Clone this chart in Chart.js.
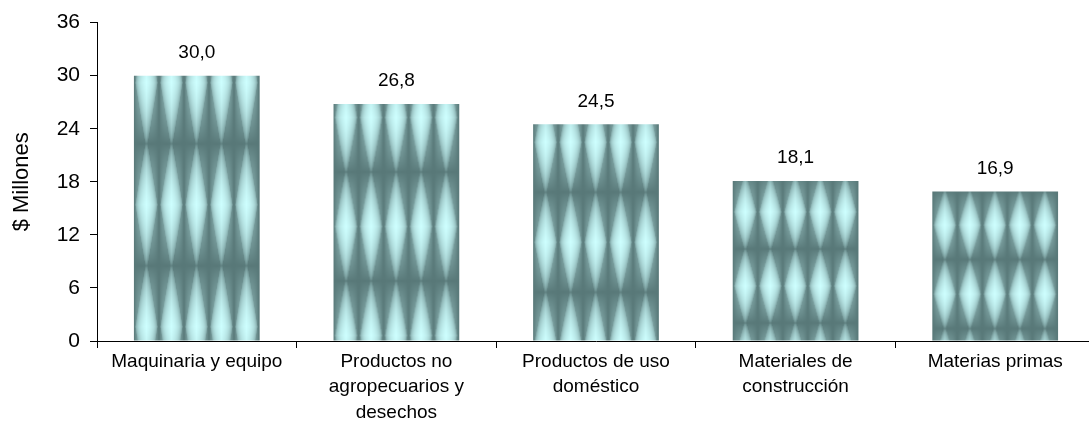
<!DOCTYPE html>
<html>
<head>
<meta charset="utf-8">
<script src="https://cdn.jsdelivr.net/npm/chart.js@4/dist/chart.umd.min.js"></script>
<style>
  html, body { margin: 0; padding: 0; background: #fff; overflow: hidden; }
  #wrap { width: 1100px; height: 421px; }
</style>
</head>
<body>
<div id="wrap"><canvas id="myChart" width="1100" height="421"></canvas></div>
<script>
const categories = [
  "Maquinaria y equipo",
  ["Productos no", "agropecuarios y", "desechos"],
  ["Productos de uso", "doméstico"],
  ["Materiales de", "construcción"],
  "Materias primas",
];
const values = [30.0, 26.8, 24.5, 18.1, 16.9];
const yTicks = [0, 6, 12, 18, 24, 30, 36];

const FONT = "'Liberation Sans', Arial, sans-serif";

// textura de las barras (franjas verticales con bandas oscuras)
const tileCache = {};
const makeTile = (w, h) => {
  const key = w + "x" + h;
  if (tileCache[key]) return tileCache[key];
  const c = document.createElement("canvas");
  c.width = w;
  c.height = h;
  const g = c.getContext("2d");
  const img = g.createImageData(w, h);
  const dark = [88, 120, 120];
  const light = [206, 255, 255];
  for (let y = 0; y < h; y++) {
    const v = (y + 0.5) / h;
    const s = 1 - Math.abs(2 * v - 1);
    for (let x = 0; x < w; x++) {
      const dx = Math.abs((x + 0.5) / w - 0.5) * 2;
      const base = 0.55 * (1 - Math.pow(dx, 2.5)) * Math.pow(s, 0.8);
      const half = 0.1 + 0.8 * s;
      let D = 1 - dx / half;
      D = D < 0 ? 0 : Math.sqrt(D) * Math.pow(s, 0.5);
      const L = base + (1 - base) * D;
      const i = (y * w + x) * 4;
      for (let k = 0; k < 3; k++) img.data[i + k] = dark[k] + (light[k] - dark[k]) * L;
      img.data[i + 3] = 255;
    }
  }
  g.putImageData(img, 0, 0);
  tileCache[key] = c;
  return c;
};

const barFill = (ctx) => {
  if (ctx.type !== "data") return "#9cc";
  const chart = ctx.chart;
  const xs = chart.scales.x;
  const ys = chart.scales.y;
  if (!xs || !ys || !ys.height) return "#9cc";
  const top = ys.getPixelForValue(ctx.raw);
  const base = ys.getPixelForValue(0);
  const h = base - top;
  const bw = (xs.width / categories.length) * 0.63;
  const left = xs.getPixelForValue(ctx.dataIndex) - bw / 2;
  const tile = makeTile(25, Math.max(10, Math.round(h * 0.46)));
  const pat = chart.ctx.createPattern(tile, "repeat");
  pat.setTransform(new DOMMatrix().translate(left, top + 68));
  return pat;
};

const valueLabels = {
  id: "valueLabels",
  afterDatasetsDraw(chart) {
    const ctx = chart.ctx;
    const meta = chart.getDatasetMeta(0);
    ctx.save();
    ctx.font = "19px " + FONT;
    ctx.fillStyle = "#000";
    ctx.textAlign = "center";
    ctx.textBaseline = "middle";
    meta.data.forEach((bar, i) => {
      ctx.fillText(values[i].toFixed(1).replace(".", ","), bar.x, bar.y - 23);
    });
    ctx.restore();
  },
};

const data = {
  labels: categories,
  datasets: [
    {
      data: values,
      backgroundColor: barFill,
      borderWidth: 0,
      barPercentage: 0.63,
      categoryPercentage: 1,
    },
  ],
};

const config = {
  type: "bar",
  data: data,
  plugins: [valueLabels],
  options: {
    responsive: false,
    animation: false,
    events: [],
    layout: { padding: { top: 21, right: 5, left: 0, bottom: 0 } },
    plugins: {
      legend: { display: false },
      tooltip: { enabled: false },
    },
    scales: {
      x: {
        afterFit: (scale) => { scale.height = 80; },
        grid: {
          display: true,
          drawOnChartArea: false,
          drawTicks: true,
          tickLength: 7,
          color: "#000",
          offset: true,
        },
        border: { display: true, color: "#000", width: 1 },
        ticks: {
          color: "#000",
          padding: 1,
          maxRotation: 0,
          autoSkip: false,
          font: { family: FONT, size: 19, lineHeight: "25.5px" },
        },
      },
      y: {
        min: 0,
        max: 36,
        afterFit: (scale) => { scale.width = 97; },
        afterBuildTicks: (scale) => {
          scale.ticks = yTicks.map((v) => ({ value: v }));
        },
        grid: {
          display: true,
          drawOnChartArea: false,
          drawTicks: true,
          tickLength: 7,
          color: "#000",
        },
        border: { display: true, color: "#000", width: 1 },
        ticks: {
          color: "#000",
          padding: 10,
          font: { family: FONT, size: 21 },
        },
        title: {
          display: true,
          text: "$ Millones",
          color: "#000",
          padding: { top: 9, bottom: 0 },
          font: { family: FONT, size: 22, lineHeight: 1.2 },
        },
      },
    },
  },
};

const ctx = document.getElementById("myChart").getContext("2d");
new Chart(ctx, config);
</script>
</body>
</html>
